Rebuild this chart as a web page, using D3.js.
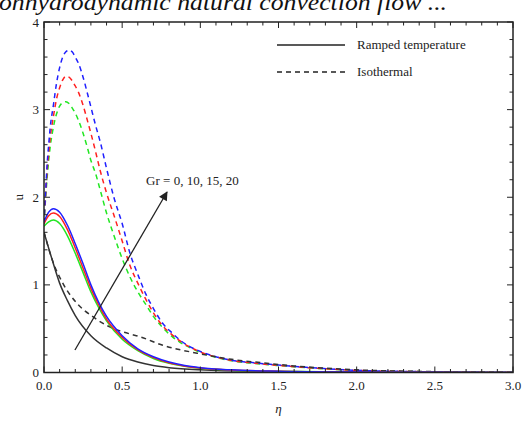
<!DOCTYPE html>
<html>
<head>
<meta charset="utf-8">
<script src="https://cdn.jsdelivr.net/npm/d3@7"></script>
<style>
  body { margin: 0; background: #fff; }
  svg { display: block; }
  text { font-family: "Liberation Serif", "DejaVu Serif", serif; fill: #222; }
</style>
</head>
<body>
<div id="chart"></div>
<script>
// eta grid points for each curve
const etaRampGr = [0, 0.03, 0.06, 0.1, 0.15, 0.2, 0.25, 0.3, 0.35, 0.4, 0.5, 0.6, 0.7, 0.8, 0.9, 1.0, 1.2, 1.5, 2.0, 2.5, 3.0];
const rampGr20 = [1.72, 1.83, 1.87, 1.83, 1.68, 1.47, 1.24, 1.0, 0.8, 0.64, 0.42, 0.27, 0.18, 0.12, 0.08, 0.055, 0.03, 0.015, 0.005, 0.002, 0.001];
const rampGr15 = [1.70, 1.79, 1.82, 1.78, 1.63, 1.42, 1.19, 0.96, 0.77, 0.61, 0.40, 0.26, 0.17, 0.11, 0.075, 0.05, 0.028, 0.014, 0.005, 0.002, 0.001];
const rampGr10 = [1.67, 1.72, 1.74, 1.70, 1.56, 1.36, 1.14, 0.92, 0.74, 0.59, 0.38, 0.25, 0.16, 0.105, 0.07, 0.048, 0.026, 0.013, 0.004, 0.002, 0.001];

const etaRamp0 = [0, 0.05, 0.1, 0.15, 0.2, 0.3, 0.4, 0.5, 0.6, 0.7, 0.8, 1.0, 1.5, 2.0, 3.0];
const ramp0 = [1.6, 1.3, 1.02, 0.82, 0.65, 0.42, 0.28, 0.18, 0.12, 0.08, 0.055, 0.03, 0.008, 0.002, 0.0];

const etaIso0 = [0, 0.06, 0.12, 0.21, 0.31, 0.42, 0.55, 0.61, 0.76, 0.98, 1.2, 1.4, 1.6, 1.8, 2.0, 2.5, 3.0];
const iso0 = [1.6, 1.25, 1.02, 0.79, 0.64, 0.52, 0.44, 0.41, 0.31, 0.22, 0.15, 0.11, 0.075, 0.05, 0.03, 0.01, 0.004];

const etaIsoGr = [0, 0.005, 0.01, 0.02, 0.03, 0.04, 0.06, 0.08, 0.1, 0.12, 0.14, 0.16, 0.18, 0.2, 0.22, 0.25, 0.28, 0.3, 0.33, 0.36, 0.4, 0.45, 0.5, 0.55, 0.6, 0.65, 0.7, 0.76, 0.82, 0.87, 0.95, 1.0, 1.1, 1.2, 1.35, 1.5, 1.75, 2.0, 2.5, 3.0];
const isoGr20 = [1.7, 1.9, 2.05, 2.38, 2.6, 2.8, 3.05, 3.3, 3.48, 3.6, 3.66, 3.68, 3.66, 3.6, 3.53, 3.37, 3.17, 3.03, 2.82, 2.63, 2.33, 1.98, 1.7, 1.36, 1.12, 0.9, 0.73, 0.56, 0.45, 0.37, 0.28, 0.24, 0.18, 0.14, 0.11, 0.085, 0.05, 0.025, 0.008, 0.003];
const isoGr15 = [1.7, 1.88, 2.02, 2.3, 2.5, 2.68, 2.92, 3.12, 3.25, 3.34, 3.38, 3.37, 3.33, 3.27, 3.2, 3.05, 2.86, 2.73, 2.52, 2.3, 2.05, 1.78, 1.5, 1.22, 1.02, 0.84, 0.68, 0.53, 0.43, 0.36, 0.275, 0.235, 0.177, 0.137, 0.106, 0.081, 0.048, 0.024, 0.008, 0.003];
const isoGr10 = [1.7, 1.85, 1.98, 2.22, 2.42, 2.58, 2.8, 2.95, 3.04, 3.08, 3.09, 3.07, 3.02, 2.96, 2.88, 2.73, 2.55, 2.42, 2.27, 2.08, 1.82, 1.55, 1.3, 1.09, 0.92, 0.78, 0.64, 0.51, 0.41, 0.345, 0.27, 0.228, 0.173, 0.133, 0.103, 0.079, 0.046, 0.023, 0.008, 0.003];

const xTicks = [0, 0.5, 1.0, 1.5, 2.0, 2.5, 3.0];
const yTicks = [0, 1, 2, 3, 4];
const legendLabels = ["Ramped temperature", "Isothermal"];
const grLabel = "Gr = 0, 10, 15, 20";

const width = 525, height = 428;
const margin = {left: 44, right: 12, top: 22, bottom: 55.5};

const svg = d3.select("#chart").append("svg")
    .attr("width", width)
    .attr("height", height);

const x = d3.scaleLinear().domain([0, 3]).range([margin.left, width - margin.right]);
const y = d3.scaleLinear().domain([0, 4]).range([height - margin.bottom, margin.top]);

// title, cut at the top edge like in the source image
svg.append("text")
    .attr("x", -1)
    .attr("y", 10)
    .attr("textLength", 448)
    .attr("lengthAdjust", "spacingAndGlyphs")
    .style("font-size", "24px")
    .style("font-style", "italic")
    .style("fill", "#111")
    .text("onhydrodynamic natural convection flow ...");

svg.append("clipPath").attr("id", "plot-clip")
  .append("rect")
    .attr("x", x(0)).attr("y", y(4))
    .attr("width", x(3) - x(0)).attr("height", y(0) - y(4));

const line = d3.line()
    .x(d => x(d[0]))
    .y(d => y(d[1]))
    .curve(d3.curveMonotoneX);

const series = [
  {eta: etaIsoGr, u: isoGr10, color: "#22e622", dash: "5,4"},
  {eta: etaIsoGr, u: isoGr15, color: "#ff2020", dash: "5,4"},
  {eta: etaIsoGr, u: isoGr20, color: "#2020ff", dash: "5,4"},
  {eta: etaIso0, u: iso0, color: "#333", dash: "5,4"},
  {eta: etaRamp0, u: ramp0, color: "#333", dash: null},
  {eta: etaRampGr, u: rampGr10, color: "#22e622", dash: null},
  {eta: etaRampGr, u: rampGr15, color: "#ff2020", dash: null},
  {eta: etaRampGr, u: rampGr20, color: "#2020ff", dash: null}
];

svg.append("g").attr("clip-path", "url(#plot-clip)")
  .selectAll("path")
  .data(series)
  .enter().append("path")
    .attr("d", s => line(s.eta.map((e, i) => [e, s.u[i]])))
    .attr("fill", "none")
    .attr("stroke", s => s.color)
    .attr("stroke-width", 1.5)
    .attr("stroke-dasharray", s => s.dash);

// frame with inward ticks on all sides
const frame = svg.append("g");
const xMinor = d3.range(0, 3.0001, 0.1);
const yMinor = d3.range(0, 4.0001, 0.2);

function isMajor(v, step) { return Math.abs(v / step - Math.round(v / step)) < 1e-6; }

xMinor.forEach(v => {
  const len = isMajor(v, 0.5) ? 6 : 3.5;
  frame.append("line").attr("x1", x(v)).attr("x2", x(v))
      .attr("y1", y(0)).attr("y2", y(0) - len);
  frame.append("line").attr("x1", x(v)).attr("x2", x(v))
      .attr("y1", y(4)).attr("y2", y(4) + len);
});
yMinor.forEach(v => {
  const len = isMajor(v, 1) ? 6 : 3.5;
  frame.append("line").attr("y1", y(v)).attr("y2", y(v))
      .attr("x1", x(0)).attr("x2", x(0) + len);
  frame.append("line").attr("y1", y(v)).attr("y2", y(v))
      .attr("x1", x(3)).attr("x2", x(3) - len);
});
frame.selectAll("line").attr("stroke", "#222").attr("stroke-width", 1);

frame.append("rect")
    .attr("x", x(0)).attr("y", y(4))
    .attr("width", x(3) - x(0)).attr("height", y(0) - y(4))
    .attr("fill", "none")
    .attr("stroke", "#222")
    .attr("stroke-width", 1.5);

// tick labels
svg.append("g").selectAll("text")
  .data(xTicks)
  .enter().append("text")
    .attr("x", d => x(d))
    .attr("y", y(0) + 17)
    .attr("text-anchor", "middle")
    .style("font-size", "13px")
    .text(d => d.toFixed(1));

svg.append("g").selectAll("text")
  .data(yTicks)
  .enter().append("text")
    .attr("x", x(0) - 5)
    .attr("y", d => y(d) + 4.5)
    .attr("text-anchor", "end")
    .style("font-size", "13px")
    .text(d => d);

// axis titles
svg.append("text")
    .attr("transform", `translate(18,${y(2)}) rotate(-90)`)
    .attr("text-anchor", "middle")
    .attr("dy", "0.35em")
    .style("font-size", "13px")
    .text("u");

svg.append("text")
    .attr("x", (x(0) + x(3)) / 2)
    .attr("y", 413)
    .attr("text-anchor", "middle")
    .style("font-size", "13px")
    .style("font-style", "italic")
    .text("η");

// legend
const legend = svg.append("g");
legendLabels.forEach((lab, i) => {
  const ly = 45 + i * 27;
  legend.append("line")
      .attr("x1", 277).attr("x2", 345)
      .attr("y1", ly).attr("y2", ly)
      .attr("stroke", "#222")
      .attr("stroke-width", 1.4)
      .attr("stroke-dasharray", i === 1 ? "5,4" : null);
  legend.append("text")
      .attr("x", 357).attr("y", ly + 4)
      .style("font-size", "13px")
      .text(lab);
});

// arrow annotation
svg.append("defs").append("marker")
    .attr("id", "arrowhead")
    .attr("viewBox", "0 0 10 10")
    .attr("refX", 9).attr("refY", 5)
    .attr("markerWidth", 12).attr("markerHeight", 9)
    .attr("markerUnits", "userSpaceOnUse")
    .attr("orient", "auto")
  .append("path")
    .attr("d", "M0,0 L10,5 L0,10 Z")
    .attr("fill", "#222");

svg.append("line")
    .attr("x1", x(0.198)).attr("y1", y(0.257))
    .attr("x2", x(0.787)).attr("y2", y(2.06))
    .attr("stroke", "#222")
    .attr("stroke-width", 1.3)
    .attr("marker-end", "url(#arrowhead)");

svg.append("text")
    .attr("x", x(0.653))
    .attr("y", y(2.14))
    .style("font-size", "13px")
    .text(grLabel);
</script>
</body>
</html>
